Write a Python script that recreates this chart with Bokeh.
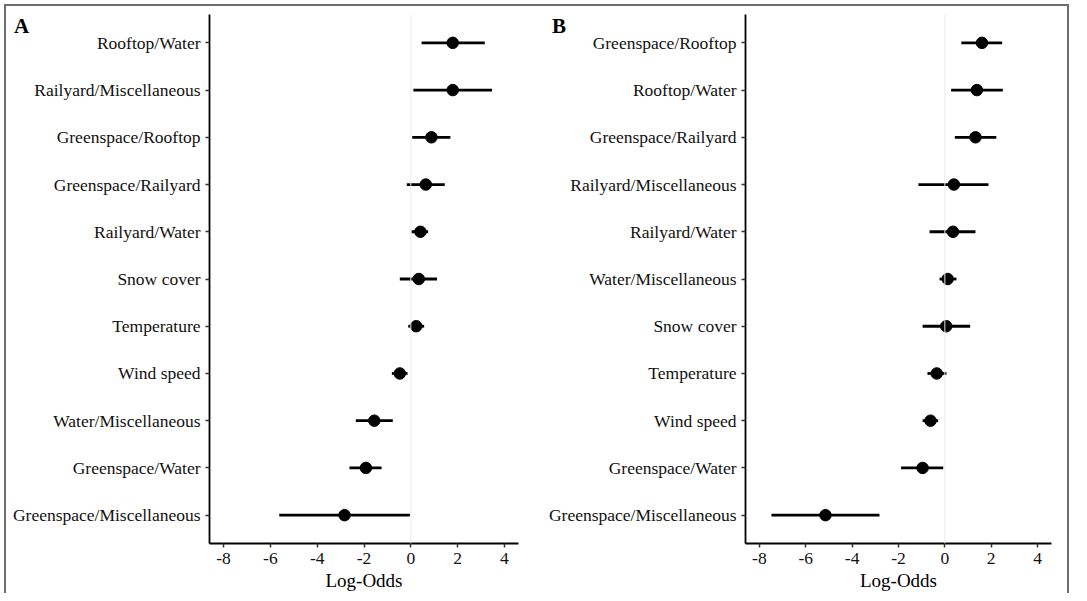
from bokeh.plotting import figure
from bokeh.layouts import row
from bokeh.models import Range1d, FactorRange, FixedTicker, Span, Div, ColumnDataSource
from bokeh.embed import file_html
from bokeh.resources import INLINE

# ---------------- data ----------------
labels_A = ["Rooftop/Water", "Railyard/Miscellaneous", "Greenspace/Rooftop", "Greenspace/Railyard",
            "Railyard/Water", "Snow cover", "Temperature", "Wind speed", "Water/Miscellaneous",
            "Greenspace/Water", "Greenspace/Miscellaneous"]
est_A = [1.79, 1.79, 0.88, 0.64, 0.41, 0.34, 0.23, -0.47, -1.56, -1.92, -2.83]
lo_A = [0.46, 0.11, 0.06, -0.17, 0.03, -0.47, -0.11, -0.81, -2.35, -2.62, -5.62]
hi_A = [3.16, 3.47, 1.69, 1.45, 0.74, 1.12, 0.57, -0.14, -0.77, -1.25, -0.04]

labels_B = ["Greenspace/Rooftop", "Rooftop/Water", "Greenspace/Railyard", "Railyard/Miscellaneous",
            "Railyard/Water", "Water/Miscellaneous", "Snow cover", "Temperature", "Wind speed",
            "Greenspace/Water", "Greenspace/Miscellaneous"]
est_B = [1.60, 1.38, 1.32, 0.39, 0.35, 0.12, 0.06, -0.35, -0.62, -0.96, -5.15]
lo_B = [0.71, 0.27, 0.43, -1.14, -0.66, -0.23, -0.96, -0.75, -0.96, -1.89, -7.48]
hi_B = [2.47, 2.50, 2.22, 1.88, 1.32, 0.50, 1.09, 0.07, -0.29, -0.07, -2.82]

x_ticks = [-8, -6, -4, -2, 0, 2, 4]
x_tick_labels = ["-8", "-6", "-4", "-2", "0", "2", "4"]
x_title = "Log-Odds"
panel_tags = ["A", "B"]

FONT = "Liberation Serif"
H = 593


def make_panel(labels, est, lo, hi, width, bl, br):
    src = ColumnDataSource(dict(y=labels, est=est, lo=lo, hi=hi))
    yr = FactorRange(factors=list(reversed(labels)), range_padding=0.1,
                     range_padding_units="absolute")
    p = figure(width=width, height=H, x_range=Range1d(-8.6, 4.6), y_range=yr,
               output_backend="svg", toolbar_location=None,
               min_border_left=bl, min_border_right=br, min_border_top=14, min_border_bottom=46)
    p.outline_line_color = None
    p.xgrid.visible = False
    p.ygrid.visible = False
    p.background_fill_color = None
    p.border_fill_color = None

    p.add_layout(Span(location=0, dimension="height", line_color="#ebebeb", line_width=1))

    p.segment(x0="lo", x1="hi", y0="y", y1="y", source=src, line_color="black", line_width=2.8)
    p.scatter(x="est", y="y", source=src, size=11.5, color="black")

    p.xaxis.ticker = FixedTicker(ticks=x_ticks)
    p.xaxis.major_label_overrides = {t: s for t, s in zip(x_ticks, x_tick_labels)}
    p.xaxis.axis_label = x_title
    p.xaxis.axis_label_text_font = FONT
    p.xaxis.axis_label_text_font_style = "normal"
    p.xaxis.axis_label_text_font_size = "19px"
    p.xaxis.axis_label_text_color = "black"
    p.xaxis.axis_label_standoff = 3
    for ax in (p.xaxis, p.yaxis):
        ax.axis_line_width = 1.8
        ax.axis_line_color = "black"
        ax.major_tick_in = 0
        ax.major_tick_out = 4
        ax.major_tick_line_width = 1.5
        ax.major_tick_line_color = "#333333"
        ax.minor_tick_line_color = None
        ax.major_label_text_font = FONT
        ax.major_label_text_font_size = "17.5px"
        ax.major_label_text_color = "#111111"
    p.xaxis.major_label_standoff = 5
    p.yaxis.major_label_standoff = 5
    return p


def tag_div(text, left):
    return Div(text=text, width=26, height=28, styles={
        "position": "absolute", "left": f"{left}px", "top": "6px",
        "font-family": FONT, "font-size": "21px", "font-weight": "bold",
        "color": "black", "z-index": "10"})


pA = make_panel(labels_A, est_A, lo_A, hi_A, 540, 209, 22)
pB = make_panel(labels_B, est_B, lo_B, hi_B, 531, 205, 20)

bc = "#6e6e6e"
lay = row(pA, pB, tag_div(panel_tags[0], 9), tag_div(panel_tags[1], 547), styles={
    "position": "relative",
    "background-color": "white",
    "background-image": (f"linear-gradient({bc},{bc}), linear-gradient({bc},{bc}), "
                         f"linear-gradient({bc},{bc})"),
    "background-size": "2px 100%, calc(100% - 8px) 2px, 2px 100%",
    "background-position": "4px 4px, 4px 4px, calc(100% - 2px) 4px",
    "background-repeat": "no-repeat",
})

open("out.html", "w").write(file_html(lay, INLINE))
